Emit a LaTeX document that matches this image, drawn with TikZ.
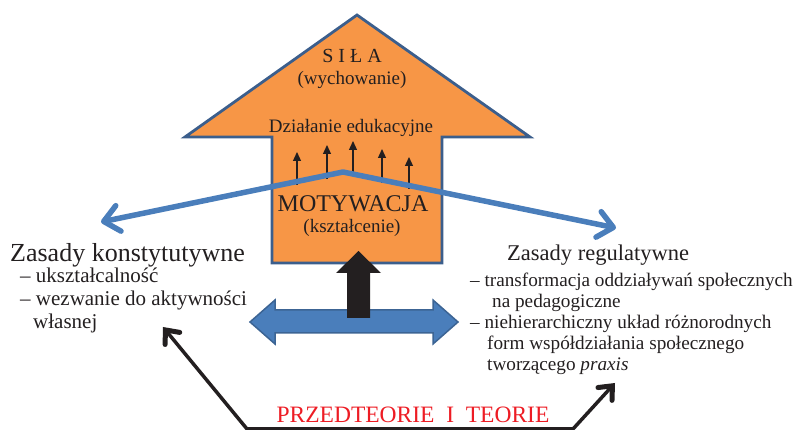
\documentclass[tikz,border=0pt]{standalone}
\usepackage{fontspec}
\setmainfont{Liberation Serif}
\usetikzlibrary{arrows.meta}
\definecolor{orng}{HTML}{F79646}
\definecolor{outl}{HTML}{3B5E8C}
\definecolor{blu}{HTML}{4A7EBB}
\definecolor{bluedge}{HTML}{3C6494}
\definecolor{blk}{HTML}{231F20}
\definecolor{redt}{HTML}{ED1C24}
\begin{document}
\begin{tikzpicture}[x=1pt,y=-1pt,
  txt/.style={inner sep=0pt, anchor=base west, text=blk},
  ctxt/.style={inner sep=0pt, anchor=base, text=blk},
  smallarr/.style={blk, line width=1.2pt, -{Triangle[length=9pt,width=8pt]}},
  bluline/.style={blu, line width=5.5pt, line join=round, line cap=round,
     {Straight Barb[length=15pt,width=26pt,line cap=round,line join=round]}-{Straight Barb[length=15pt,width=26pt,line cap=round,line join=round]}},
  blkline/.style={blk, line width=3.5pt, line join=miter,
     {Straight Barb[length=11pt,width=19pt,line width=5pt,line cap=round]}-{Straight Barb[length=11pt,width=19pt,line width=5pt,line cap=round]}},
  f26/.style={font=\fontsize{26}{29}\selectfont},
  f24/.style={font=\fontsize{24}{27}\selectfont},
  f22/.style={font=\fontsize{22.5}{26}\selectfont},
  f21/.style={font=\fontsize{21}{24}\selectfont},
  f20/.style={font=\fontsize{20}{23}\selectfont},
  f19/.style={font=\fontsize{19}{22}\selectfont},
  fr/.style={font=\fontsize{19.2}{22}\selectfont},
]
\useasboundingbox (0,0) rectangle (796,430);

% big orange arrow
\draw[fill=orng, draw=outl, line width=2.8pt, line join=miter]
  (357,15) -- (530,137) -- (442,137) -- (442,263) -- (272,263) -- (272,137) -- (185,137) -- cycle;

% blue double arrow
\draw[fill=blu, draw=bluedge, line width=1.5pt, line join=miter]
  (250,322) -- (275,300) -- (275,310) -- (433,310) -- (433,300) -- (458,322)
  -- (433,344) -- (433,333) -- (275,333) -- (275,344) -- cycle;

% black block arrow
\fill[blk] (358.5,251) -- (381,273) -- (370,273) -- (370,318) -- (347,318) -- (347,273) -- (336,273) -- cycle;

% texts in arrow
\node[ctxt, f20] (sila) at (352,63) {S I Ł A};
\node[ctxt, f19] (wych) at (352,85) {(wychowanie)};
\node[ctxt, f19] (dzial) at (351,133) {Działanie edukacyjne};
\node[ctxt, f24] (moty) at (353,212) {MOTYWACJA};
\node[ctxt, f19] (kszt) at (352,233) {(kształcenie)};

% small arrows
\coordinate (a1s) at (297,185); \coordinate (a1e) at (297,152);
\coordinate (a2s) at (327,179); \coordinate (a2e) at (327,145);
\coordinate (a3s) at (353,176); \coordinate (a3e) at (353,141);
\coordinate (a4s) at (382,183); \coordinate (a4e) at (382,149);
\coordinate (a5s) at (409,189); \coordinate (a5e) at (409,157);
\draw[smallarr] (a1s) -- (a1e);
\draw[smallarr] (a2s) -- (a2e);
\draw[smallarr] (a3s) -- (a3e);
\draw[smallarr] (a4s) -- (a4e);
\draw[smallarr] (a5s) -- (a5e);

% blue line
\coordinate (ltip) at (101,222);
\coordinate (peak) at (343,172);
\coordinate (rtip) at (616,228);
\draw[bluline] (ltip) -- (peak) -- (rtip);

% left text
\node[txt, f26] (lhead) at (10,262) {Zasady konstytutywne};
\node[txt, f21] (l1) at (20,283) {– ukształcalność};
\node[txt, f21] (l2) at (20,306) {– wezwanie do aktywności};
\node[txt, f21] (l3) at (33,329) {własnej};

% right text
\node[txt, f22] (rhead) at (507,261) {Zasady regulatywne};
\node[txt, fr] (r1) at (470,287) {– transformacja oddziaływań społecznych};
\node[txt, fr] (r2) at (492,308) {na pedagogiczne};
\node[txt, fr] (r3) at (470,329) {– niehierarchiczny układ różnorodnych};
\node[txt, fr] (r4) at (487,350) {form współdziałania społecznego};
\node[txt, fr] (r5) at (487,371) {tworzącego \textit{praxis}};

% black connector
\coordinate (bl) at (163,327);
\coordinate (bc1) at (247,429);
\coordinate (bc2) at (573,429);
\coordinate (br) at (615,383);
\draw[blkline] (bl) -- (bc1) -- (bc2) -- (br);

% red label
\node[inner sep=0pt, anchor=base, text=redt, font=\fontsize{23.5}{27}\selectfont] (teor) at (413,423) {PRZEDTEORIE\ \ I\ \ TEORIE};
\end{tikzpicture}
\end{document}
